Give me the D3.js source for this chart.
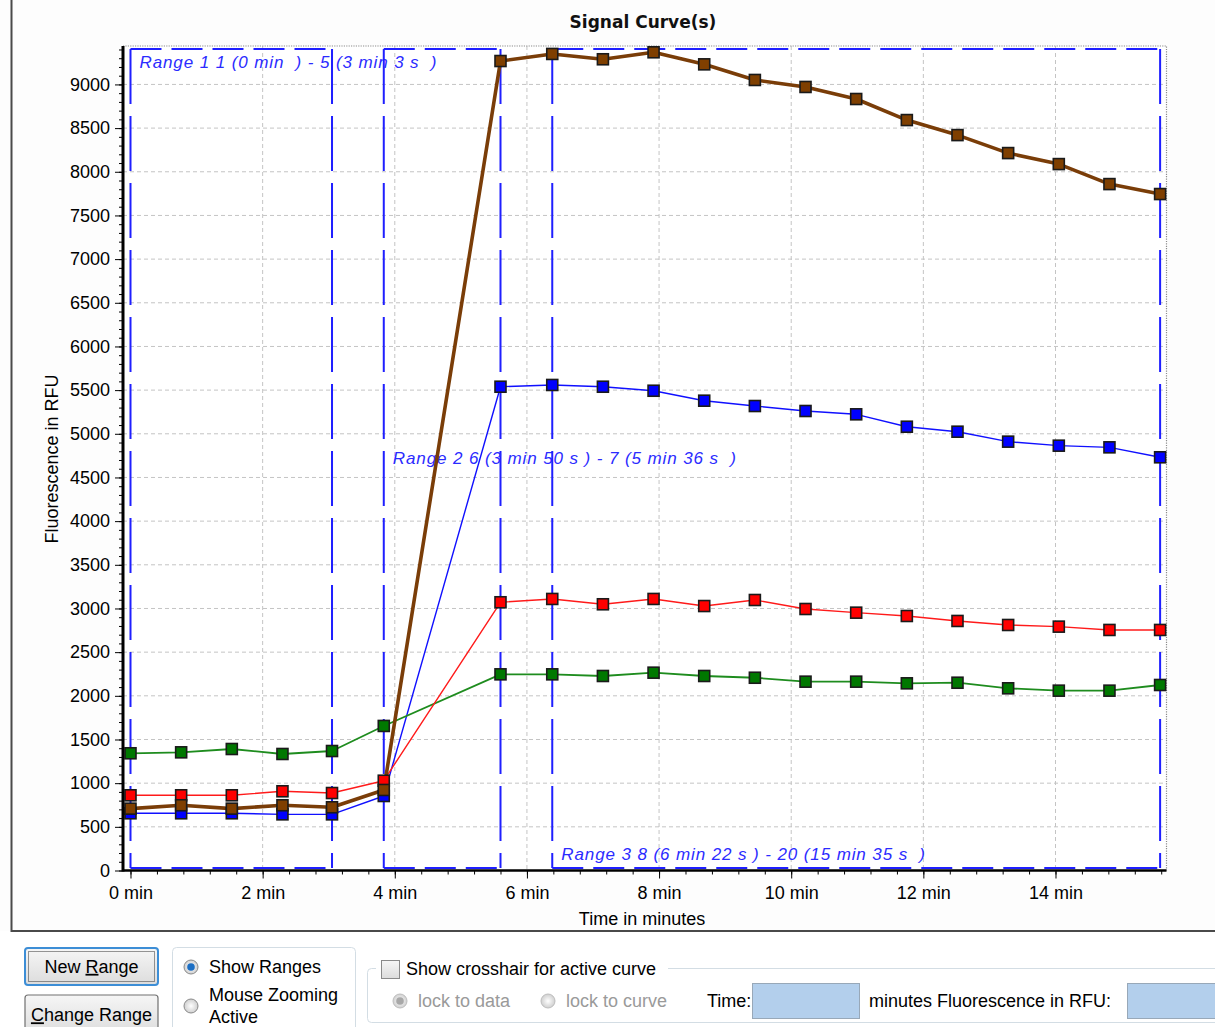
<!DOCTYPE html>
<html>
<head>
<meta charset="utf-8">
<script src="https://cdn.jsdelivr.net/npm/d3@7"></script>
<style>
  html, body { margin: 0; padding: 0; background: #ffffff; }
  svg { display: block; }
  text { font-family: "Liberation Sans", Arial, sans-serif; }
</style>
</head>
<body>
<script>
// ---------------- data ----------------
const chartTitle = "Signal Curve(s)";
const xTitle = "Time in minutes";
const yTitle = "Fluorescence in RFU";
// sample times in seconds
const times = [0, 46, 92, 138, 183, 230, 336, 383, 429, 475, 521, 567, 613, 659, 705, 751, 797, 843, 889, 935];
const seriesNames = ["blue", "green", "red", "brown"];
const blueValues  = [655, 655, 655, 643, 643, 853, 5539, 5559, 5539, 5493, 5379, 5318, 5261, 5223, 5081, 5024, 4910, 4864, 4845, 4731];
const greenValues = [1342, 1353, 1391, 1334, 1368, 1655, 2246, 2246, 2227, 2265, 2227, 2207, 2162, 2162, 2143, 2150, 2086, 2059, 2059, 2124];
const redValues   = [861, 861, 861, 907, 887, 1028, 3071, 3109, 3048, 3109, 3028, 3097, 2994, 2952, 2914, 2857, 2811, 2792, 2754, 2754];
const brownValues = [708, 747, 708, 747, 724, 922, 9268, 9349, 9288, 9368, 9230, 9051, 8971, 8833, 8592, 8420, 8214, 8088, 7859, 7745];
const xTickValues = [0, 2, 4, 6, 8, 10, 12, 14];           // minutes
const xTickLabels = ["0 min", "2 min", "4 min", "6 min", "8 min", "10 min", "12 min", "14 min"];
const yTickValues = [0, 500, 1000, 1500, 2000, 2500, 3000, 3500, 4000, 4500, 5000, 5500, 6000, 6500, 7000, 7500, 8000, 8500, 9000];
// ranges: first / last point number (1-based)
const rangeStart = [1, 6, 8];
const rangeEnd   = [5, 7, 20];
const rangeLabels = [
  "Range 1 1 (0 min  ) - 5 (3 min 3 s  )",
  "Range 2 6 (3 min 50 s ) - 7 (5 min 36 s  )",
  "Range 3 8 (6 min 22 s ) - 20 (15 min 35 s  )"
];

// ---------------- setup ----------------
const W = 1215, H = 1027;
const svg = d3.select("body").append("svg").attr("width", W).attr("height", H);

const styles = {
  blue:  { line: "#1010ff", fill: "#0000ff", width: 1.4 },
  green: { line: "#1e8c1e", fill: "#007800", width: 1.8 },
  red:   { line: "#ff1a1a", fill: "#ff0000", width: 1.4 },
  brown: { line: "#7a3d08", fill: "#7f3f00", width: 3.6 }
};
const seriesValues = { blue: blueValues, green: greenValues, red: redValues, brown: brownValues };

// panel background + border
svg.append("rect").attr("x", 0).attr("y", 0).attr("width", W).attr("height", 931).attr("fill", "#fdfdfd");
svg.append("path").attr("d", "M11.5,-2 V931 H1220").attr("fill", "none").attr("stroke", "#4a4a4a").attr("stroke-width", 2);

const pL = 123, pR = 1166.5, pT = 46, pB = 870.5;
const x = d3.scaleLinear().domain([-0.1135, 15.68]).range([pL, pR]);
const y = d3.scaleLinear().domain([0, 9440]).range([pB, pT]);

const plot = svg.append("g");
plot.append("rect").attr("x", pL).attr("y", pT).attr("width", pR - pL).attr("height", pB - pT).attr("fill", "#ffffff");

// grid
const gridColor = "#c4c4c4";
plot.append("g").selectAll("line").data(yTickValues.filter(v => v > 0)).join("line")
  .attr("x1", pL).attr("x2", pR).attr("y1", d => y(d)).attr("y2", d => y(d))
  .attr("stroke", gridColor).attr("stroke-width", 1).attr("stroke-dasharray", "4,3");
plot.append("g").selectAll("line").data(xTickValues.filter(v => v > 0)).join("line")
  .attr("y1", pT).attr("y2", pB).attr("x1", d => x(d)).attr("x2", d => x(d))
  .attr("stroke", gridColor).attr("stroke-width", 1).attr("stroke-dasharray", "4,3");

// dotted plot border top/right
plot.append("path").attr("d", `M${pL},${pT} H${pR} V${pB}`)
  .attr("fill", "none").attr("stroke", "#8c8c8c").attr("stroke-width", 1.2).attr("stroke-dasharray", "1.2,1.2");

// ranges
const rangeColor = "#1f1fff";
const rg = plot.append("g");
rangeStart.forEach((s, i) => {
  const x0 = x(times[s - 1] / 60), x1 = x(times[rangeEnd[i] - 1] / 60);
  const yT = pT + 3, yB = pB - 2.5;
  rg.append("path").attr("d", `M${x0},${yT} H${x1} M${x0},${yB} H${x1}`)
    .attr("fill", "none").attr("stroke", rangeColor).attr("stroke-width", 2).attr("stroke-dasharray", "31,10");
  rg.append("path").attr("d", `M${x0},${yT} V${yB} M${x1},${yT} V${yB}`)
    .attr("fill", "none").attr("stroke", rangeColor).attr("stroke-width", 2).attr("stroke-dasharray", "55,12");
  let ty;
  if (i % 3 === 0) ty = yT + 13;
  else if (i % 3 === 1) ty = (yT + yB) / 2;
  else ty = yB - 14;
  rg.append("text").attr("x", x0 + 9).attr("y", ty).attr("dy", "0.35em")
    .attr("font-size", 17).attr("font-style", "italic").attr("fill", "#2b2bff")
    .attr("letter-spacing", 0.9)
    .style("white-space", "pre")
    .text(rangeLabels[i]);
});

// series lines + markers
const line = d3.line().x((d, i) => x(times[i] / 60)).y(d => y(d));
seriesNames.forEach(name => {
  const st = styles[name];
  plot.append("path").datum(seriesValues[name]).attr("d", line)
    .attr("fill", "none").attr("stroke", st.line).attr("stroke-width", st.width).attr("stroke-linejoin", "round");
});
seriesNames.forEach(name => {
  const st = styles[name];
  plot.append("g").selectAll("rect").data(seriesValues[name]).join("rect")
    .attr("x", (d, i) => x(times[i] / 60) - 5.5).attr("y", d => y(d) - 5.5)
    .attr("width", 11).attr("height", 11)
    .attr("fill", st.fill).attr("stroke", "#1a1a1a").attr("stroke-width", 1.6);
});

// axes
const yAxis = d3.axisLeft(y).tickValues(yTickValues).tickSize(8).tickPadding(5).tickFormat(d3.format("d"));
const yMinor = d3.axisLeft(y).tickValues(d3.range(0, 9401, 100)).tickSize(4).tickFormat("");
const xAxis = d3.axisBottom(x).tickValues(xTickValues).tickSize(8).tickPadding(8).tickFormat((d, i) => xTickLabels[i]);
const xMinor = d3.axisBottom(x).tickValues(d3.range(0, 15.7, 0.4)).tickSize(4).tickFormat("");

function styleAxis(g) {
  g.select(".domain").remove();
  g.selectAll("line").attr("stroke", "#000").attr("stroke-width", 1);
  g.selectAll("text").attr("font-size", 18).attr("fill", "#000").attr("font-family", "'Liberation Sans', Arial, sans-serif");
}
svg.append("g").attr("transform", `translate(${pL},0)`).call(yMinor).call(styleAxis);
svg.append("g").attr("transform", `translate(${pL},0)`).call(yAxis).call(styleAxis);
svg.append("g").attr("transform", `translate(0,${pB})`).call(xMinor).call(styleAxis);
svg.append("g").attr("transform", `translate(0,${pB})`).call(xAxis).call(styleAxis);

// axis lines
svg.append("line").attr("x1", pL).attr("x2", pL).attr("y1", pT).attr("y2", pB + 1)
  .attr("stroke", "#000").attr("stroke-width", 3);
svg.append("line").attr("x1", pL).attr("x2", pR).attr("y1", pB).attr("y2", pB)
  .attr("stroke", "#000").attr("stroke-width", 2.5);

// titles
svg.append("text").attr("x", 643).attr("y", 28).attr("text-anchor", "middle")
  .style("font-family", "'DejaVu Sans', Verdana, sans-serif").attr("font-weight", "bold").attr("font-size", 17)
  .attr("fill", "#111").text(chartTitle);
svg.append("text").attr("x", 642).attr("y", 925).attr("text-anchor", "middle")
  .attr("font-size", 18).attr("fill", "#000").text(xTitle);
svg.append("text").attr("transform", "translate(58,459) rotate(-90)").attr("text-anchor", "middle")
  .attr("font-size", 18).attr("fill", "#000").text(yTitle);

// ---------------- controls ----------------
const defs = svg.append("defs");
const bg = defs.append("linearGradient").attr("id", "btn").attr("x1", 0).attr("x2", 0).attr("y1", 0).attr("y2", 1);
bg.append("stop").attr("offset", "0%").attr("stop-color", "#f6f6f6");
bg.append("stop").attr("offset", "100%").attr("stop-color", "#dcdcdc");
const rgd = defs.append("radialGradient").attr("id", "rad");
rgd.append("stop").attr("offset", "0%").attr("stop-color", "#ffffff");
rgd.append("stop").attr("offset", "100%").attr("stop-color", "#cfcfcf");
const ctl = svg.append("g").attr("font-size", 18);

function button(bx, byy, bw, bh, label, ul, focused) {
  ctl.append("rect").attr("x", bx).attr("y", byy).attr("width", bw).attr("height", bh).attr("rx", 3)
    .attr("fill", "url(#btn)").attr("stroke", focused ? "#3d8ed6" : "#707070").attr("stroke-width", focused ? 2 : 1.2);
  if (focused) {
    ctl.append("rect").attr("x", bx + 3.5).attr("y", byy + 3.5).attr("width", bw - 7).attr("height", bh - 7)
      .attr("fill", "none").attr("stroke", "#333").attr("stroke-width", 1).attr("stroke-dasharray", "1,1");
  }
  const t = ctl.append("text").attr("x", bx + bw / 2).attr("y", byy + bh / 2).attr("dy", "0.35em").attr("text-anchor", "middle").attr("fill", "#000");
  t.append("tspan").text(label.slice(0, ul));
  t.append("tspan").attr("text-decoration", "underline").text(label[ul]);
  t.append("tspan").text(label.slice(ul + 1));
}
button(25, 948, 133, 37, "New Range", 4, true);
button(25, 995, 133, 40, "Change Range", 0, false);

ctl.append("rect").attr("x", 172.5).attr("y", 947.5).attr("width", 183).attr("height", 95).attr("rx", 4)
  .attr("fill", "none").attr("stroke", "#d3dde4");

function radio(cx, cy, checked, disabled) {
  ctl.append("circle").attr("cx", cx).attr("cy", cy).attr("r", 7)
    .attr("fill", "url(#rad)").attr("stroke", disabled ? "#bdbdbd" : "#8a8a8a").attr("stroke-width", 1);
  if (checked) ctl.append("circle").attr("cx", cx).attr("cy", cy).attr("r", 3.8)
    .attr("fill", disabled ? "#a8a8a8" : "#1d6fc4");
}
radio(191, 967, true, false);
ctl.append("text").attr("x", 209).attr("y", 967).attr("dy", "0.35em").attr("fill", "#000").text("Show Ranges");
radio(191, 1006, false, false);
ctl.append("text").attr("x", 209).attr("y", 995).attr("dy", "0.35em").attr("fill", "#000").text("Mouse Zooming");
ctl.append("text").attr("x", 209).attr("y", 1017).attr("dy", "0.35em").attr("fill", "#000").text("Active");

ctl.append("rect").attr("x", 367.5).attr("y", 968.5).attr("width", 880).attr("height", 54).attr("rx", 4)
  .attr("fill", "none").attr("stroke", "#d3dde4");
ctl.append("rect").attr("x", 376).attr("y", 958).attr("width", 292).attr("height", 22).attr("fill", "#ffffff");
ctl.append("rect").attr("x", 381.5).attr("y", 960.5).attr("width", 18).attr("height", 18)
  .attr("fill", "url(#btn)").attr("stroke", "#8a8a8a");
ctl.append("text").attr("x", 406).attr("y", 969).attr("dy", "0.35em").attr("fill", "#000").text("Show crosshair for active curve");

radio(400, 1001, true, true);
ctl.append("text").attr("x", 418).attr("y", 1001).attr("dy", "0.35em").attr("fill", "#9a9a9a").text("lock to data");
radio(548, 1001, false, true);
ctl.append("text").attr("x", 566).attr("y", 1001).attr("dy", "0.35em").attr("fill", "#9a9a9a").text("lock to curve");
ctl.append("text").attr("x", 707).attr("y", 1001).attr("dy", "0.35em").attr("fill", "#000").text("Time:");
ctl.append("rect").attr("x", 752.5).attr("y", 983.5).attr("width", 107).attr("height", 35)
  .attr("fill", "#b3cfec").attr("stroke", "#98a8b8");
ctl.append("text").attr("x", 869).attr("y", 1001).attr("dy", "0.35em").attr("fill", "#000").text("minutes  Fluorescence in RFU:");
ctl.append("rect").attr("x", 1127.5).attr("y", 983.5).attr("width", 100).attr("height", 35)
  .attr("fill", "#b3cfec").attr("stroke", "#98a8b8");
</script>
</body>
</html>
